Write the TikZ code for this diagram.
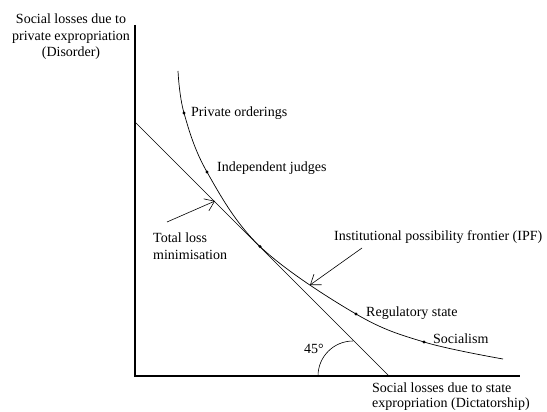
\documentclass[tikz,border=0pt]{standalone}
\usepackage{fontspec}
\setmainfont{Liberation Serif}
\usetikzlibrary{arrows.meta}

\tikzset{
  lbl/.style={font=\fontsize{14}{16.5}\selectfont, inner sep=0pt},
  axis/.style={line width=2.2pt},
  pointer/.style={-{Straight Barb[length=9pt,width=13pt]}, line width=0.6pt},
}

\begin{document}
\begin{tikzpicture}[x=1pt,y=-1pt]
  \useasboundingbox (0,0) rectangle (547,412);

  \coordinate (O) at (135.00, 376.00);
  \coordinate (Ytop) at (135.00, 25.00);
  \coordinate (Xend) at (520.00, 376.00);

  \draw[axis] (Ytop) -- (O) -- (Xend);

  % 45 degree line
  \coordinate (Lstart) at (135.00, 122.00);
  \coordinate (Lend) at (389.00, 376.00);
  \coordinate (Acen) at (353.00, 376.00);
  \draw[line width=0.7pt] (Lstart) -- (Lend);
  \draw[line width=0.6pt] (318.00, 376.00) arc (180:270:35);
  \node[lbl][anchor=west] (ang) at (304.00, 349.00) {45°};

  % frontier
  \coordinate (Fstart) at (178.00, 71.00);
  \coordinate (PO) at (184.00, 113.00);
  \coordinate (IJ) at (207.00, 172.00);
  \coordinate (T) at (260.00, 246.50);
  \coordinate (RS) at (356.00, 314.00);
  \coordinate (SO) at (424.00, 342.00);
  \coordinate (Fend) at (503.00, 359.00);
  \draw[line width=0.7pt] plot[smooth, tension=0.6] coordinates {(Fstart) (PO) (IJ) (T) (RS) (SO) (Fend)};

  \foreach \p in {PO,IJ,T,RS,SO}
    \fill[black] (\p) circle (1.6pt);

  \node[lbl][anchor=west] (po) at (191.00, 113.00) {Private orderings};
  \node[lbl][anchor=west] (ij) at (217.00, 168.00) {Independent judges};
  \node[lbl][anchor=west] (rs) at (366.00, 313.00) {Regulatory state};
  \node[lbl][anchor=west] (so) at (433.00, 339.00) {Socialism};

  \node[lbl][anchor=west, align=left] (tlm) at (153.00, 246.00) {Total loss\\minimisation};
  \coordinate (TLtail) at (167.00, 222.00);
  \coordinate (TLhead) at (215.00, 201.00);
  \draw[pointer] (TLtail) -- (TLhead);

  \node[lbl][anchor=west] (ipf) at (334.00, 237.00) {Institutional possibility frontier (IPF)};
  \coordinate (IPFtail) at (362.00, 248.00);
  \coordinate (IPFhead) at (310.00, 285.00);
  \draw[pointer] (IPFtail) -- (IPFhead);

  \node[lbl][align=center] (ylab) at (71.00, 37.00) {Social losses due to\\private expropriation\\(Disorder)};
  \node[lbl][anchor=west, align=left, font=\fontsize{14}{15}\selectfont] (xlab) at (372.00, 397.00) {Social losses due to state\\expropriation (Dictatorship)};
\end{tikzpicture}
\end{document}
